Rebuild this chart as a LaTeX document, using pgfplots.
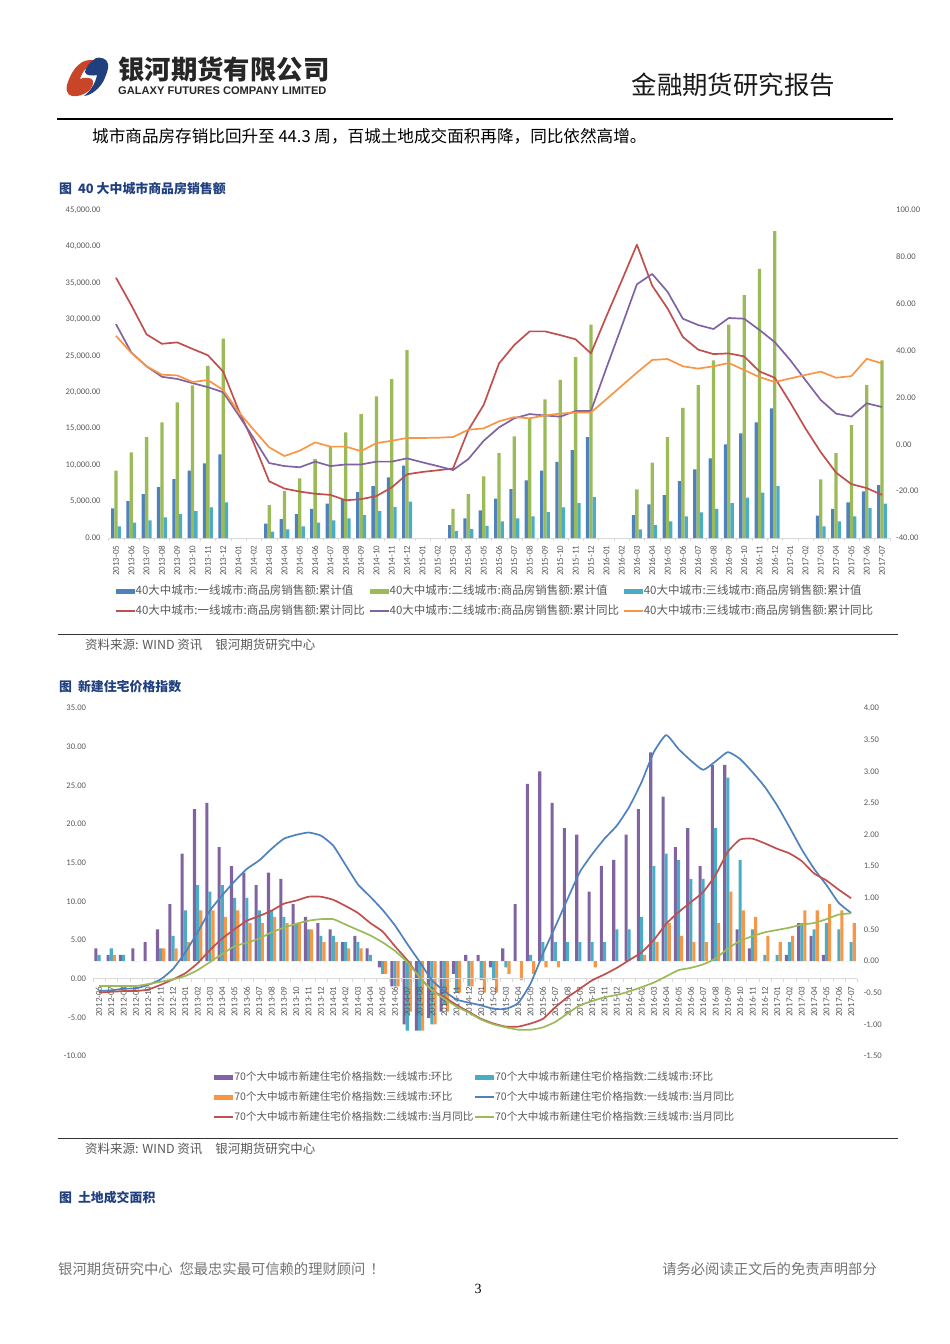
\documentclass[border=0pt]{standalone}
\usepackage{fontspec}
\usepackage{pgfplots}
\usepackage{pgfplotstable}
\pgfplotsset{compat=1.18}
\setmainfont{Carlito}
\newfontfamily\cjk{Noto Sans CJK SC}
\newfontfamily\lib{Liberation Sans}
\newfontfamily\tms{Liberation Serif}
\newcommand{\fs}[1]{\fontsize{#1pt}{#1pt}\selectfont}

\definecolor{cblue}{HTML}{4F81BD}
\definecolor{cred}{HTML}{C0504D}
\definecolor{cgreen}{HTML}{9BBB59}
\definecolor{cpurple}{HTML}{8064A2}
\definecolor{cteal}{HTML}{4BACC6}
\definecolor{corange}{HTML}{F79646}
\definecolor{navy}{HTML}{1F3F7F}
\definecolor{logored}{HTML}{C8452A}
\definecolor{tickgrey}{HTML}{595959}
\definecolor{axisgrey}{HTML}{D9D9D9}

\pgfplotstableread{
idx date b g t r p o
0 2013-05 4070 9230 1600 71.1 51.3 46.3
1 2013-06 5075 11750 2100 59.4 39.2 39
2 2013-07 6030 13850 2420 46.9 33.3 33.3
3 2013-08 6990 15860 2830 42.9 28.8 29.7
4 2013-09 8090 18600 3290 43.5 27.9 29.4
5 2013-10 9230 20930 3700 40.7 26.1 26.6
6 2013-11 10240 23630 4200 38 24.4 27.4
7 2013-12 11470 27370 4890 31 22.2 23.2
8 2014-01 nan nan nan 14.6 12.5 13.9
9 2014-02 nan nan nan 0.4 2.5 6.1
10 2014-03 1965 4520 870 -15.8 -8 -1.3
11 2014-04 2600 6440 1190 -18.9 -9.3 -5
12 2014-05 3290 8180 1600 -20.2 -9.8 -2.7
13 2014-06 3980 10830 2100 -21.1 -7.4 0.8
14 2014-07 4710 12520 2420 -21.6 -9.3 -1
15 2014-08 5350 14490 2700 -23.9 -8.6 -1
16 2014-09 6310 17000 3150 -23.4 -8.6 -2.9
17 2014-10 7130 19420 3700 -22.1 -7.4 0.5
18 2014-11 8320 21800 4250 -18.4 -7.4 1.5
19 2014-12 9920 25770 4980 -12.8 -6 2.7
20 2015-01 nan nan nan -11.8 -7.7 2.7
21 2015-02 nan nan nan -11.1 -9.3 2.8
22 2015-03 1780 3980 960 -10.3 -11 3.1
23 2015-04 2700 6030 1230 6.1 -6.3 6.2
24 2015-05 3790 8450 1650 16.8 1.5 6.8
25 2015-06 5390 11650 2290 34.5 7.2 9.8
26 2015-07 6720 13940 2700 42.4 11.1 11.6
27 2015-08 7900 16400 2970 48.2 12.9 11.1
28 2015-09 9230 19010 3560 48.2 12.3 12.3
29 2015-10 10460 21710 4200 46.6 11.8 13.1
30 2015-11 12060 24820 4800 44.8 14.2 13.6
31 2015-12 13850 29290 5620 38.8 14.2 13.6
32 2016-01 nan nan nan 54.5 32.4 19.2
33 2016-02 nan nan nan 69.7 50.2 24.9
34 2016-03 3150 6670 1190 85.2 68.3 30.6
35 2016-04 4620 10330 1780 67.7 72.7 36
36 2016-05 5900 13850 2290 58 65.1 36.4
37 2016-06 7810 17870 2970 45.8 53.6 33.3
38 2016-07 9410 20980 3520 40.4 50.9 32.3
39 2016-08 10920 24360 3980 38.5 49.2 33.3
40 2016-09 12840 29290 4800 38.8 53.9 34.7
41 2016-10 14350 33320 5530 37.5 53.6 31.7
42 2016-11 15860 36930 6220 31.1 48.8 28.7
43 2016-12 17780 42090 7130 28.4 43.6 26.6
44 2017-01 nan nan nan 17.9 36 28.1
45 2017-02 nan nan nan 6.8 27.4 29.6
46 2017-03 3060 8040 1600 -3.4 18.9 31
47 2017-04 3980 11650 2290 -12.1 13.1 28.4
48 2017-05 4890 15490 2970 -17 11.8 29.1
49 2017-06 6400 20980 4110 -18.7 17.5 36.5
50 2017-07 7270 24360 4710 -21.6 15.9 34.5
}\salestable

\pgfplotstableread{
idx date p t o b r g
0 2012-06 0.2 0.1 0 -1.6 -1.8 -0.95
1 2012-07 0.1 0.2 0.1 -1.5 -1.7 -0.95
2 2012-08 0.1 0.1 0 -1.3 -1.6 -0.95
3 2012-09 0.2 0 0 -1.25 -1.6 -0.95
4 2012-10 0.3 0 0 -0.8 -1.4 -0.7
5 2012-11 0.5 0.2 0.2 -0.1 -0.8 -0.4
6 2012-12 0.9 0.4 0.2 1.25 -0.1 -0.1
7 2013-01 1.7 0.8 0.3 3.4 0.7 0.35
8 2013-02 2.4 1.2 0.8 6 2 1.1
9 2013-03 2.5 1.1 0.8 8.8 3.7 2.15
10 2013-04 1.8 1.2 0.7 10.8 5.2 3.2
11 2013-05 1.5 1 0.8 12.6 6.4 4.2
12 2013-06 1.4 1 0.6 14.2 7.5 4.65
13 2013-07 1.2 0.8 0.6 15.3 8.1 5.2
14 2013-08 1.4 0.8 0.7 16.8 8.8 6
15 2013-09 1.3 0.7 0.6 18.1 9.7 6.6
16 2013-10 0.9 0.6 0.6 18.6 10.1 7.1
17 2013-11 0.7 0.5 0.5 18.9 10.6 7.5
18 2013-12 0.6 0.4 0.3 18.5 10.6 7.7
19 2014-01 0.5 0.4 0.3 17.2 10.2 7.7
20 2014-02 0.3 0.3 0.2 14.7 9.4 7
21 2014-03 0.4 0.3 0.2 12.2 8.5 6.3
22 2014-04 0.2 0.1 0 10.6 7.2 5.6
23 2014-05 -0.1 -0.2 -0.2 8.9 6.1 4.7
24 2014-06 -0.4 -0.4 -0.4 6.9 4.2 3.6
25 2014-07 -1 -1.1 -0.8 4.5 2.4 2.15
26 2014-08 -1.1 -1.1 -1.1 2.2 0.2 0.2
27 2014-09 -0.9 -1 -1 -0.2 -1.5 -1.5
28 2014-10 -0.8 -0.7 -0.8 -1.6 -2.4 -2.6
29 2014-11 -0.2 -0.5 -0.5 -2.7 -3.4 -3.6
30 2014-12 0.1 -0.4 -0.4 -3.1 -4.3 -4.4
31 2015-01 0.1 -0.3 -0.5 -3.45 -5.2 -5.3
32 2015-02 -0.1 -0.3 -0.5 -3.9 -5.8 -5.9
33 2015-03 0.2 -0.1 -0.2 -3.9 -6.2 -6.3
34 2015-04 0.9 0 -0.3 -3.15 -6.2 -6.6
35 2015-05 2.8 0.1 -0.2 -0.65 -5.8 -6.6
36 2015-06 3 0.3 -0.1 3.2 -5.2 -6.3
37 2015-07 2.5 0.3 -0.1 6.7 -3.7 -5.6
38 2015-08 2.1 0.3 0 10.3 -2.4 -4.5
39 2015-09 2 0.3 0 13.8 -1.3 -3.45
40 2015-10 1.1 0.3 -0.1 16.1 -0.2 -2.9
41 2015-11 1.5 0.3 0 18.1 0.55 -2.4
42 2015-12 1.6 0.5 0 19.8 1.4 -2.1
43 2016-01 2 0.5 0 22.2 2.4 -1.65
44 2016-02 2.4 0.7 0.1 25.4 3.4 -1.1
45 2016-03 3.3 1.5 0.3 29.3 5 -0.5
46 2016-04 2.6 1.7 0.6 31.5 7.1 0.3
47 2016-05 1.8 1.6 0.4 29.7 8.6 1.1
48 2016-06 2.1 1.3 0.3 28.2 9.9 1.4
49 2016-07 1.5 1.3 0.3 27 11.2 1.85
50 2016-08 3.1 2.1 0.6 28.1 13.4 2.6
51 2016-09 3.1 2.9 1.1 29.3 16.4 3.9
52 2016-10 0.5 1.6 0.8 28.4 18 4.9
53 2016-11 0.2 0.5 0.7 26.7 18.1 5.5
54 2016-12 0 0.1 0.4 24.8 17.5 6
55 2017-01 0 0.1 0.3 22.4 16.8 6.3
56 2017-02 0.1 0.3 0.4 19.6 16.2 6.6
57 2017-03 0.6 0.6 0.8 16.7 15.2 7
58 2017-04 0.4 0.5 0.8 14.2 13.6 7.2
59 2017-05 0.1 0.6 0.9 12.1 12.7 7.7
60 2017-06 0 0.5 0.8 9.8 11.5 8.3
61 2017-07 0 0.3 0.6 8.5 10.4 8.45
}\pricetable

\pgfplotsset{
  barkey/.style={legend image code/.code={\fill[##1,draw=none] (0pt,-2.5pt) rectangle (19pt,2.5pt);}},
  linekey/.style={legend image code/.code={\draw[##1] (0pt,0pt) -- (19pt,0pt);}},
  pagechart/.style={
    scale only axis,
    scaled y ticks=false,
    ticklabel style={text=tickgrey},
    /pgf/number format/.cd,fixed,fixed zerofill,precision=2,1000 sep={,},assume math mode=true,
    /pgfplots/.cd,
    y axis line style={draw=none},
    ytick style={draw=none},
    yticklabel style={font=\fs{8.6}},
  },
  serie/.style={no marks,line width=1.7pt,line join=round,color=#1},
  barserie/.style={draw=none,fill=#1},
  chartlegend/.style={
    legend cell align=left,
    legend style={draw=none,fill=none,inner sep=0pt,outer sep=0pt,text=tickgrey,
      nodes={inner sep=0pt,text height=9pt,text depth=2.5pt},
      /tikz/every even column/.append style={column sep=#1}},
  },
}

\begin{document}
\begin{tikzpicture}[x=1pt,y=-1pt]
\useasboundingbox (0,0) rectangle (950,1344);

% page header
\fill[logored] (90,60) .. controls (78,60) and (70,74) .. (67,85) .. controls (65,94) and (70,97) .. (77,96) .. controls (86,95) and (94,88) .. (93,81) .. controls (92,77) and (84,77) .. (80,79) .. controls (82,72) and (88,64) .. (96,61) .. controls (94,60) and (92,60) .. (90,60) -- cycle;
\fill[navy] (108,64) .. controls (107,58) and (100,57) .. (96,58) .. controls (90,62) and (85,68) .. (85,72) .. controls (85,76) and (94,76) .. (97,75) .. controls (96,81) and (92,90) .. (84,96) .. controls (92,95) and (100,88) .. (104,80) .. controls (106,75) and (109,69) .. (108,64) -- cycle;
\node[anchor=west,inner sep=0pt,text=black!85] at (118,69) {\cjk\bfseries\fs{26.4}银河期货有限公司};
\node[anchor=west,inner sep=0pt,text=black!85] at (118,91) {\lib\bfseries\fs{11.1}GALAXY FUTURES COMPANY LIMITED};
\node[anchor=east,inner sep=0pt,text=black!90] at (835,85) {\cjk\fs{25.4}金融期货研究报告};
\draw[black,line width=1.2pt] (57,119) -- (893,119);
\node[anchor=west,inner sep=0pt,text=black] at (92,136) {\cjk\fs{16.6}城市商品房存销比回升至 44.3 周，百城土地成交面积再降，同比依然高增。};

% chart headings and sources
\node[anchor=west,inner sep=0pt,text=navy] at (59,188.5) {\cjk\bfseries\fs{12.9}图\hspace{3pt} 40 大中城市商品房销售额};
\draw[black!80,line width=0.9pt] (58,634.5) -- (898,634.5);
\node[anchor=west,inner sep=0pt,text=tickgrey] at (85,645) {\cjk\fs{12.5}资料来源: WIND 资讯\hspace{13pt}银河期货研究中心};
\node[anchor=west,inner sep=0pt,text=navy] at (59,687) {\cjk\bfseries\fs{12.9}图\hspace{3pt} 新建住宅价格指数};
\draw[black!80,line width=0.9pt] (58,1138.5) -- (898,1138.5);
\node[anchor=west,inner sep=0pt,text=tickgrey] at (85,1149) {\cjk\fs{12.5}资料来源: WIND 资讯\hspace{13pt}银河期货研究中心};
\node[anchor=west,inner sep=0pt,text=navy] at (59,1198) {\cjk\bfseries\fs{12.9}图\hspace{3pt} 土地成交面积};

% footer
\node[anchor=west,inner sep=0pt,text=black!55] at (58,1269.5) {\cjk\fs{14.3}银河期货研究中心\hspace{7pt}您最忠实最可信赖的理财顾问\hspace{5pt}！};
\node[anchor=east,inner sep=0pt,text=black!55] at (877,1269.5) {\cjk\fs{14.3}请务必阅读正文后的免责声明部分};
\node[inner sep=0pt,text=black] at (478,1289) {\tms\fs{14}3};

% chart 1: bars on the left axis
\begin{axis}[pagechart,
  at={(108.3pt,-538pt)},anchor=south west,width=781.4pt,height=328pt,
  ymin=0,ymax=45000,ytick={0,5000,...,45000},
  xmin=-0.5,xmax=50.5,
  axis y line*=left,axis x line*=bottom,
  x axis line style={draw=axisgrey},
  xtick={0,...,50},xticklabels from table={\salestable}{date},
  xticklabel style={rotate=90,anchor=east,font=\fs{9}},
  major x tick style={draw=none},
  minor xtick={-0.5,0.5,...,50.5},
  minor tick length=3pt,minor x tick style={draw=axisgrey},
  tick align=outside,
  ybar=0pt,bar width=3.3pt,
]
\addplot[barserie=cblue] table[x=idx,y=b]{\salestable};
\addplot[barserie=cgreen] table[x=idx,y=g]{\salestable};
\addplot[barserie=cteal] table[x=idx,y=t]{\salestable};
\end{axis}

% chart 1: lines on the right axis
\begin{axis}[pagechart,chartlegend=4pt,
  at={(108.3pt,-538pt)},anchor=south west,width=781.4pt,height=328pt,
  ymin=-40,ymax=100,ytick={-40,-20,...,100},
  yticklabel style={xshift=3pt},
  xmin=-0.5,xmax=50.5,
  axis y line*=right,axis x line=none,
  legend columns=3,
  legend style={at={(0.0085,-0.145)},anchor=north west,font=\cjk\fs{11.5},row sep=8.5pt},
]
\addlegendimage{barkey,fill=cblue}
\addlegendentry{40大中城市:一线城市:商品房销售额:累计值}
\addlegendimage{barkey,fill=cgreen}
\addlegendentry{40大中城市:二线城市:商品房销售额:累计值}
\addlegendimage{barkey,fill=cteal}
\addlegendentry{40大中城市:三线城市:商品房销售额:累计值}
\addplot[serie=cred,linekey] table[x=idx,y=r]{\salestable};
\addlegendentry{40大中城市:一线城市:商品房销售额:累计同比}
\addplot[serie=cpurple,linekey] table[x=idx,y=p]{\salestable};
\addlegendentry{40大中城市:二线城市:商品房销售额:累计同比}
\addplot[serie=corange,linekey] table[x=idx,y=o]{\salestable};
\addlegendentry{40大中城市:三线城市:商品房销售额:累计同比}
\end{axis}

% chart 2: bars on the right axis
\begin{axis}[pagechart,
  at={(92.8pt,-1056pt)},anchor=south west,width=764.5pt,height=348pt,
  ymin=-1.5,ymax=4,ytick={-1.5,-1,...,4},
  yticklabel style={xshift=3pt},
  xmin=-0.5,xmax=61.5,
  axis y line*=right,axis x line=none,
  ybar=0pt,bar width=3.1pt,
]
\addplot[barserie=cpurple] table[x=idx,y=p]{\pricetable};
\addplot[barserie=cteal] table[x=idx,y=t]{\pricetable};
\addplot[barserie=corange] table[x=idx,y=o]{\pricetable};
\end{axis}

% chart 2: lines on the left axis, month axis through zero
\begin{axis}[pagechart,chartlegend=1pt,
  at={(92.8pt,-1056pt)},anchor=south west,width=764.5pt,height=348pt,
  ymin=-10,ymax=35,ytick={-10,-5,...,35},
  yticklabel style={xshift=1pt},
  xmin=-0.5,xmax=61.5,
  axis y line*=left,axis x line*=middle,
  x axis line style={draw=axisgrey},
  xtick={0,...,61},xticklabels from table={\pricetable}{date},
  xticklabel style={rotate=90,anchor=east,font=\fs{9}},
  major x tick style={draw=none},
  minor xtick={-0.5,0.5,...,61.5},
  minor tick length=3pt,minor x tick style={draw=axisgrey},
  tick align=outside,
  legend columns=2,
  legend style={at={(0.158,-0.044)},anchor=north west,font=\cjk\fs{10.55},row sep=8.6pt},
]
\addlegendimage{barkey,fill=cpurple}
\addlegendentry{70个大中城市新建住宅价格指数:一线城市:环比}
\addlegendimage{barkey,fill=cteal}
\addlegendentry{70个大中城市新建住宅价格指数:二线城市:环比}
\addlegendimage{barkey,fill=corange}
\addlegendentry{70个大中城市新建住宅价格指数:三线城市:环比}
\addplot[serie=cblue,linekey,smooth,tension=0.3] table[x=idx,y=b]{\pricetable};
\addlegendentry{70个大中城市新建住宅价格指数:一线城市:当月同比}
\addplot[serie=cred,linekey,smooth,tension=0.3] table[x=idx,y=r]{\pricetable};
\addlegendentry{70个大中城市新建住宅价格指数:二线城市:当月同比}
\addplot[serie=cgreen,linekey,smooth,tension=0.3] table[x=idx,y=g]{\pricetable};
\addlegendentry{70个大中城市新建住宅价格指数:三线城市:当月同比}
\end{axis}
\end{tikzpicture}
\end{document}
